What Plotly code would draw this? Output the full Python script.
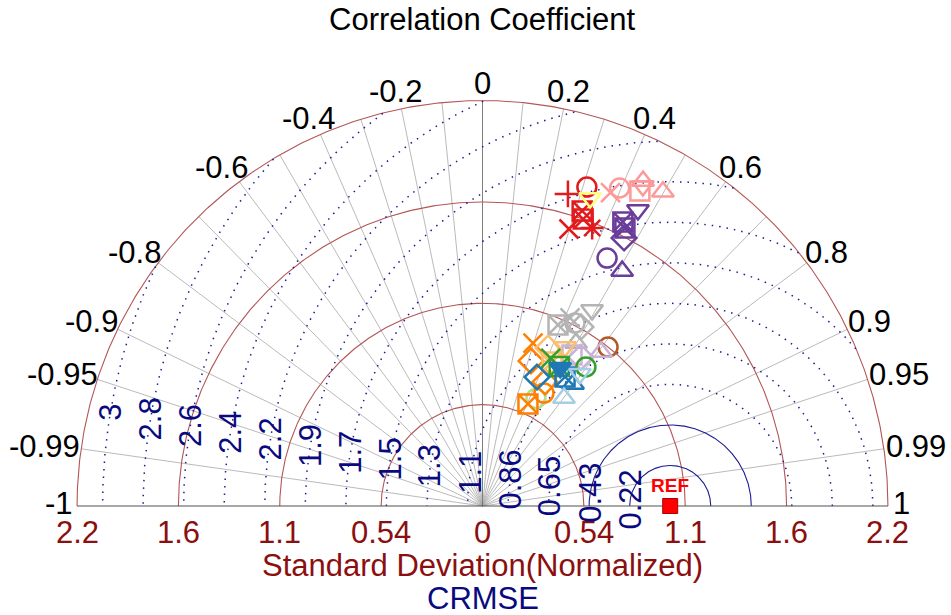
import numpy as np
import plotly.graph_objects as go

# ---------------------------------------------------------------------------
# Taylor diagram data: normalized standard deviation and correlation per run
# ---------------------------------------------------------------------------
red_std = [1.724, 1.788, 1.659, 1.620, 1.546, 1.592]
red_cor = [0.264, 0.311, 0.320, 0.331, 0.298, 0.367]
red_sym = ["cross-thin-open", "circle-open", "square-x-open", "square-x-open", "x-thin-open", "asterisk-open"]

yellow_std = [1.738]
yellow_cor = [0.330]
yellow_sym = ["triangle-down-open"]

pink_std = [1.804, 1.845, 1.876, 1.931, 1.907, 1.930]
pink_cor = [0.378, 0.396, 0.447, 0.443, 0.448, 0.498]
pink_sym = ["x-thin-open", "circle-open", "square-open", "triangle-up-open", "triangle-down-open", "triangle-up-open"]

purple_std = [1.781, 1.688, 1.664, 1.615, 1.478, 1.456]
purple_cor = [0.465, 0.443, 0.456, 0.467, 0.449, 0.511]
purple_sym = ["triangle-down-open", "square-x-open", "square-x-open", "diamond-open", "circle-open", "triangle-up-open"]

gray_std = [1.045, 1.105, 1.092, 1.089, 1.196, 1.001]
gray_cor = [0.385, 0.422, 0.451, 0.482, 0.488, 0.498]
gray_sym = ["square-x-open", "x-thin-open", "circle-open", "diamond-open", "triangle-down-open", "triangle-up-open"]

brown_std = [1.079]
brown_cor = [0.620]
brown_sym = ["circle-open"]

lilac_std = [1.035, 0.935, 0.950]
lilac_cor = [0.610, 0.510, 0.552]
lilac_sym = ["triangle-up-open", "square-open", "diamond-open"]

green_std = [0.923, 0.866, 0.848]
green_cor = [0.597, 0.420, 0.482]
green_sym = ["circle-open", "x-thin-open", "square-x-open"]

lightgreen_std = [0.640]
lightgreen_cor = [0.445]
lightgreen_sym = ["circle-open"]

orange_std = [0.909, 0.815, 0.595, 0.685, 0.740]
orange_cor = [0.296, 0.317, 0.407, 0.478, 0.450]
orange_sym = ["x-thin-open", "diamond-open", "square-x-open", "circle-open", "diamond-open"]

lightorange_std = [0.911, 0.852, 0.954]
lightorange_cor = [0.383, 0.435, 0.461]
lightorange_sym = ["diamond-open", "square-x-open", "triangle-down-open"]

blue_std = [0.746, 0.816, 0.809, 0.845]
blue_cor = [0.389, 0.539, 0.596, 0.490]
blue_sym = ["diamond-open", "square-x-open", "triangle-up-open", "triangle-down"]

lightblue_std = [0.721, 0.875]
lightblue_cor = [0.602, 0.593]
lightblue_sym = ["triangle-up-open", "triangle-down-open"]

ref_std = 1.0

# axis ticks
std_max = 2.16
std_ticks = [0.54, 1.08, 1.62, 2.16]
std_labels = ["0.54", "1.1", "1.6", "2.2"]
cor_ticks = [-1, -0.99, -0.95, -0.9, -0.8, -0.6, -0.4, -0.2, 0,
             0.2, 0.4, 0.6, 0.8, 0.9, 0.95, 0.99, 1]
cor_labels = ["-1", "-0.99", "-0.95", "-0.9", "-0.8", "-0.6", "-0.4", "-0.2", "0",
              "0.2", "0.4", "0.6", "0.8", "0.9", "0.95", "0.99", "1"]
cor_grid = [0.1, 0.2, 0.3, 0.4, 0.5, 0.6, 0.7, 0.8, 0.9, 0.95, 0.99]
rms_levels = [0.216, 0.432, 0.648, 0.864, 1.08, 1.296, 1.512, 1.728, 1.944,
              2.16, 2.376, 2.592, 2.808, 3.024]
rms_labels = ["0.22", "0.43", "0.65", "0.86", "1.1", "1.3", "1.5", "1.7", "1.9",
              "2.2", "2.4", "2.6", "2.8", "3"]

# ---------------------------------------------------------------------------
# drawing helpers
# ---------------------------------------------------------------------------
W, H = 951, 615
PX = 187.7            # pixels per unit of standard deviation
OX, OY = 482.5, 506   # origin in page pixels
FS = 31               # main font size

FONT = "Liberation Sans, Arial, Helvetica, sans-serif"
ARC_COL = "#B35656"
STD_LBL_COL = "#8B0F0F"
RMS_COL = "#1C1C96"
RMS_LBL_COL = "#0A0A80"
GRID_COL = "#A8A8A8"

# approximate glyph advances (em) used to push labels clear of the rim
ADV = {".": 0.278, "-": 0.333}

fig = go.Figure()


def line(x, y, color, width=1.0, dash="solid"):
    fig.add_trace(go.Scatter(x=x, y=y, mode="lines", hoverinfo="skip",
                             line=dict(color=color, width=width, dash=dash),
                             showlegend=False))


# correlation spokes
for c in cor_grid:
    for s in (1, -1):
        t = np.arccos(s * c)
        line([0, std_max * np.cos(t)], [0, std_max * np.sin(t)], GRID_COL, 0.8)
line([0, 0], [0, std_max], "#707070", 0.9)

# standard deviation arcs
th = np.linspace(0, np.pi, 400)
for r in std_ticks:
    line(r * np.cos(th), r * np.sin(th), ARC_COL, 1.1)

# centred RMS difference contours around the reference point
phi = np.linspace(0, np.pi, 600)
for i, rho in enumerate(rms_levels):
    x = ref_std + rho * np.cos(phi)
    y = rho * np.sin(phi)
    inside = x ** 2 + y ** 2 <= std_max ** 2 + 1e-9
    x = np.where(inside, x, np.nan)
    y = np.where(inside, y, np.nan)
    if i < 2:
        line(x, y, RMS_COL, 1.1)
    else:
        line(x, y, RMS_COL, 1.5, dash="1.5px,6px")

# base line
line([-std_max, std_max], [0, 0], "#505050", 1.0)

# model runs
groups = [
    (red_std, red_cor, red_sym, "#E31A1C"),
    (yellow_std, yellow_cor, yellow_sym, "#FFFF80"),
    (pink_std, pink_cor, pink_sym, "#FB9A99"),
    (purple_std, purple_cor, purple_sym, "#6A3D9A"),
    (gray_std, gray_cor, gray_sym, "#B4B4B4"),
    (brown_std, brown_cor, brown_sym, "#B15928"),
    (lilac_std, lilac_cor, lilac_sym, "#CAB2D6"),
    (lightgreen_std, lightgreen_cor, lightgreen_sym, "#B2DF8A"),
    (orange_std, orange_cor, orange_sym, "#FF7F00"),
    (lightorange_std, lightorange_cor, lightorange_sym, "#FDBF6F"),
    (green_std, green_cor, green_sym, "#33A02C"),
    (blue_std, blue_cor, blue_sym, "#1F78B4"),
    (lightblue_std, lightblue_cor, lightblue_sym, "#A6CEE3"),
]
for s, c, sym, col in groups:
    s = np.asarray(s)
    c = np.asarray(c)
    fig.add_trace(go.Scatter(
        x=s * c, y=s * np.sqrt(1 - c ** 2), mode="markers", showlegend=False,
        marker=dict(symbol=sym, size=19, color=col, line=dict(color=col, width=2.5)),
    ))

# reference point
fig.add_trace(go.Scatter(x=[ref_std], y=[0], mode="markers", showlegend=False,
                         marker=dict(symbol="square", size=15, color="#FF0000",
                                     line=dict(color="#B00000", width=1))))

ann = []
# correlation labels: box edge nearest the origin sits just outside the rim
for c, lab in zip(cor_ticks, cor_labels):
    t = np.arccos(c)
    r = std_max + 6 / PX
    w = FS * sum(ADV.get(ch, 0.556) for ch in lab)
    h = FS * 0.72
    lift = 3 if abs(c) == 1 else 0
    ann.append(dict(x=r * np.cos(t), y=r * np.sin(t), text=lab, showarrow=False,
                    xanchor="center", yanchor="middle",
                    xshift=0.44 * w * np.cos(t), yshift=0.5 * h * np.sin(t) + lift,
                    font=dict(family=FONT, size=FS, color="black")))

# standard deviation tick labels on both sides
for v, lab in [(0, "0")] + list(zip(std_ticks, std_labels)) + [(-a, b) for a, b in zip(std_ticks, std_labels)]:
    ann.append(dict(x=v, y=-(532 - OY) / PX, text=lab, showarrow=False, xanchor="center",
                    yanchor="middle", font=dict(family=FONT, size=FS, color=STD_LBL_COL)))

# RMS labels along a ray from the reference point
lab_ang = np.deg2rad(170.5)
for rho, lab in zip(rms_levels, rms_labels):
    ann.append(dict(x=ref_std + rho * np.cos(lab_ang), y=rho * np.sin(lab_ang), text=lab,
                    showarrow=False, textangle=-90, xanchor="center", yanchor="middle",
                    font=dict(family=FONT, size=FS, color=RMS_LBL_COL)))

ann.append(dict(x=ref_std, y=21 / PX, text="<b>REF</b>", showarrow=False,
                xanchor="center", yanchor="middle",
                font=dict(family=FONT, size=19, color="#FF0000")))

ann.append(dict(x=0, y=(OY - 19) / PX, text="Correlation Coefficient", showarrow=False,
                xanchor="center", yanchor="middle", font=dict(family=FONT, size=FS, color="black")))
ann.append(dict(x=0, y=-(565 - OY) / PX, text="Standard Deviation(Normalized)", showarrow=False,
                xanchor="center", yanchor="middle", font=dict(family=FONT, size=FS, color=STD_LBL_COL)))
ann.append(dict(x=0, y=-(598 - OY) / PX, text="CRMSE", showarrow=False,
                xanchor="center", yanchor="middle", font=dict(family=FONT, size=FS, color=RMS_LBL_COL)))

fig.update_layout(
    width=W, height=H, margin=dict(l=0, r=0, t=0, b=0),
    paper_bgcolor="white", plot_bgcolor="white",
    xaxis=dict(range=[-OX / PX, (W - OX) / PX], visible=False, fixedrange=True),
    yaxis=dict(range=[-(H - OY) / PX, OY / PX], visible=False, fixedrange=True),
    annotations=ann,
)

fig.write_html("out.html", config={"displayModeBar": False})
